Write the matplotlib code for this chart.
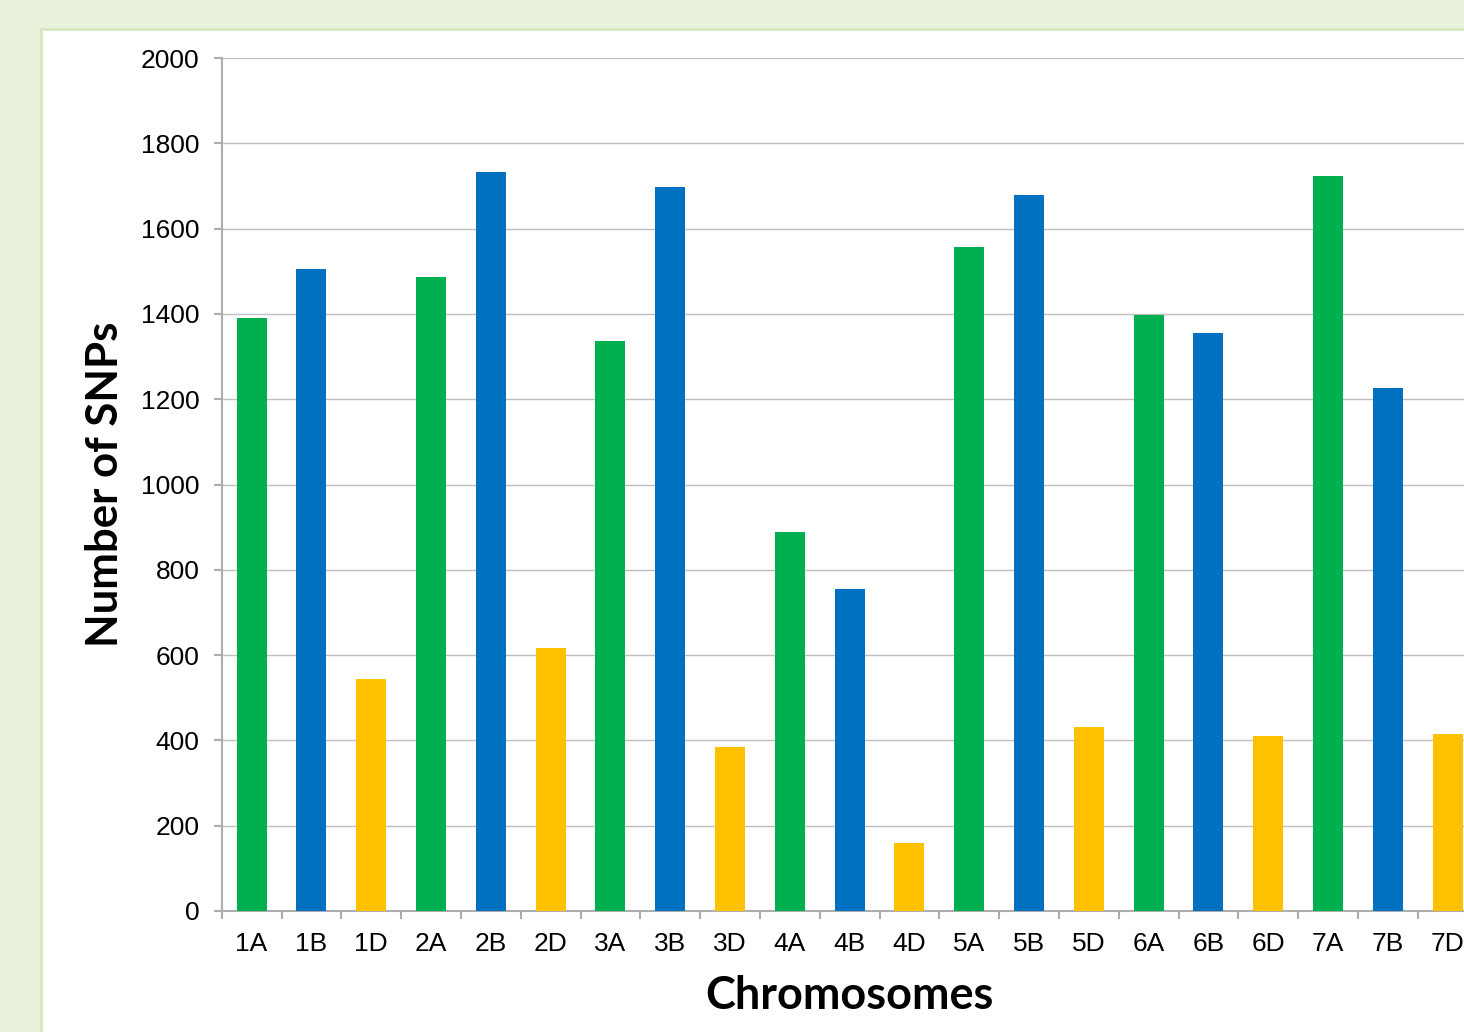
import matplotlib
matplotlib.use("Agg")
import matplotlib.pyplot as plt
from matplotlib.patches import Rectangle
from matplotlib.ticker import FixedLocator

categories = ["1A", "1B", "1D", "2A", "2B", "2D", "3A", "3B", "3D",
              "4A", "4B", "4D", "5A", "5B", "5D", "6A", "6B", "6D",
              "7A", "7B", "7D"]
snp_counts = [1390, 1505, 544, 1486, 1733, 617, 1336, 1697, 385,
              889, 755, 159, 1557, 1679, 431, 1397, 1355, 410,
              1723, 1226, 415]
genome_colors = {"A": "#00B050", "B": "#0070C0", "D": "#FFC000"}
y_ticks = [0, 200, 400, 600, 800, 1000, 1200, 1400, 1600, 1800, 2000]

W, H = 1464, 1032
fig = plt.figure(figsize=(W / 100, H / 100), dpi=100)
fig.patch.set_facecolor("#E9F2DB")

# white panel
panel = Rectangle((40.5 / W, -0.01), 1.1, 1 - 29 / H + 0.01,
                  transform=fig.transFigure, facecolor="white",
                  edgecolor="#D5E8BF", linewidth=2, zorder=-5)
fig.patches.append(panel)

left = 221.7 / W
right = (221.7 + 21 * 59.8) / W
bottom = 1 - 911 / H
top = 1 - 58 / H
ax = fig.add_axes([left, bottom, right - left, top - bottom])
ax.set_zorder(2)
ax.set_facecolor("none")

x = list(range(len(categories)))
colors = [genome_colors[c[-1]] for c in categories]
ax.bar(x, snp_counts, width=0.5, color=colors, zorder=3)

ax.set_xlim(-0.5, len(categories) - 0.5)
ax.set_ylim(0, 2000)
ax.set_yticks(y_ticks)
ax.set_yticklabels([str(v) for v in y_ticks])
ax.set_xticks(x)
ax.set_xticklabels(categories)
ax.xaxis.set_minor_locator(FixedLocator([i - 0.5 for i in range(len(categories) + 1)]))

ax.yaxis.grid(True, color="#BFBFBF", linewidth=1.0, zorder=0)
ax.set_axisbelow(True)
for s in ["top", "right"]:
    ax.spines[s].set_visible(False)
for s in ["left", "bottom"]:
    ax.spines[s].set_color("#ADADAD")
    ax.spines[s].set_linewidth(1.5)

ax.tick_params(axis="y", which="major", length=6, width=1.5, color="#ADADAD",
               pad=10, labelsize=19)
ax.tick_params(axis="x", which="major", length=0, pad=15, labelsize=19)
ax.tick_params(axis="x", which="minor", length=6, width=1.5, color="#ADADAD")
for lab in ax.get_xticklabels() + ax.get_yticklabels():
    lab.set_fontfamily("Liberation Sans")
    lab.set_color("black")

fig.text(105 / W, 1 - 484 / H, "Number of SNPs", rotation=90,
         ha="center", va="center", fontsize=31.5, fontweight="bold",
         family="Lato")
fig.text(849 / W, 1 - 996 / H, "Chromosomes", ha="center", va="center",
         fontsize=32.4, fontweight="bold", family="Lato")

fig.savefig("out.png", dpi=100, facecolor=fig.get_facecolor())
